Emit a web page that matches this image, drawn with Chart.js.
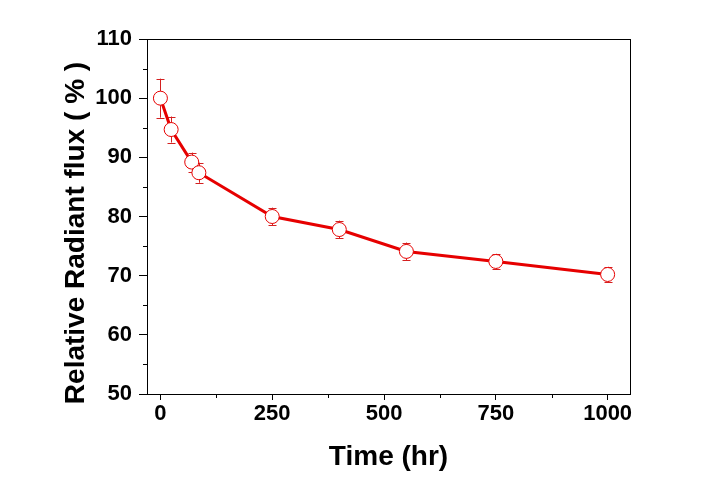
<!DOCTYPE html>
<html>
<head>
<meta charset="utf-8">
<script src="https://cdn.jsdelivr.net/npm/chart.js@4"></script>
<style>
  html, body { margin: 0; padding: 0; background: #fff; }
  #wrap { width: 714px; height: 482px; }
</style>
</head>
<body>
<div id="wrap"><canvas id="chart" width="714" height="482"></canvas></div>
<script>
// values
const times = [0, 24, 70, 86, 250, 400, 550, 750, 1000];
const flux = [100, 94.7, 89.2, 87.4, 80, 77.8, 74.1, 72.4, 70.2];
const errs = [3.3, 2.2, 1.6, 1.7, 1.5, 1.5, 1.5, 1.3, 1.3];
const xTicks = [0, 250, 500, 750, 1000];
const xMinor = [125, 375, 625, 875];
const yTicks = [50, 60, 70, 80, 90, 100, 110];
const yMinor = [55, 65, 75, 85, 95, 105];
const yTitle = 'Relative Radiant flux ( % )';

const red = '#e60000';
const fam = '"Liberation Sans", Arial, sans-serif';

// frame, minor ticks, error bars, y title
const extras = {
  id: 'extras',
  beforeDatasetsDraw(chart) {
    const ctx = chart.ctx;
    const xs = chart.scales.x, ys = chart.scales.y;
    ctx.save();
    ctx.strokeStyle = '#d42020';
    ctx.lineWidth = 1;
    times.forEach((t, i) => {
      const px = Math.round(xs.getPixelForValue(t)) + 0.5;
      const top = ys.getPixelForValue(flux[i] + errs[i]);
      const bot = ys.getPixelForValue(flux[i] - errs[i]);
      ctx.beginPath();
      ctx.moveTo(px, top); ctx.lineTo(px, bot);
      ctx.moveTo(px - 4, Math.round(top) + 0.5); ctx.lineTo(px + 4, Math.round(top) + 0.5);
      ctx.moveTo(px - 4, Math.round(bot) + 0.5); ctx.lineTo(px + 4, Math.round(bot) + 0.5);
      ctx.stroke();
    });
    ctx.restore();
  },
  afterDraw(chart) {
    const ctx = chart.ctx;
    const a = chart.chartArea;
    const xs = chart.scales.x, ys = chart.scales.y;
    ctx.save();
    ctx.strokeStyle = '#000';
    ctx.lineWidth = 1;
    ctx.strokeRect(Math.round(a.left) + 0.5, Math.round(a.top) + 0.5,
      Math.round(a.right - a.left), Math.round(a.bottom - a.top));
    ctx.beginPath();
    xMinor.forEach(v => {
      const px = Math.round(xs.getPixelForValue(v)) + 0.5;
      ctx.moveTo(px, a.bottom); ctx.lineTo(px, a.bottom + 4);
    });
    yMinor.forEach(v => {
      const py = Math.round(ys.getPixelForValue(v)) + 0.5;
      ctx.moveTo(a.left, py); ctx.lineTo(a.left - 4, py);
    });
    ctx.stroke();

    // y title sits a bit below the axis centre in the reference
    ctx.translate(76, 233);
    ctx.rotate(-Math.PI / 2);
    ctx.fillStyle = '#000';
    ctx.font = 'bold 28px ' + fam;
    ctx.textAlign = 'center';
    ctx.textBaseline = 'middle';
    ctx.fillText(yTitle, 0, 0);
    ctx.restore();
  }
};

new Chart(document.getElementById('chart').getContext('2d'), {
  type: 'scatter',
  data: {
    datasets: [{
      data: times.map((t, i) => ({ x: t, y: flux[i] })),
      showLine: true,
      borderColor: red,
      borderWidth: 3,
      pointRadius: 7,
      pointBorderWidth: 1,
      pointBorderColor: red,
      pointBackgroundColor: '#fff',
      tension: 0
    }]
  },
  options: {
    responsive: false,
    animation: false,
    layout: { padding: { left: 0, right: 84, top: 39, bottom: 0 } },
    plugins: { legend: { display: false }, tooltip: { enabled: false } },
    scales: {
      x: {
        type: 'linear',
        min: -30,
        max: 1050,
        afterFit: s => { s.height = 88; },
        afterBuildTicks: s => { s.ticks = xTicks.map(v => ({ value: v })); },
        border: { display: false },
        grid: { display: true, drawOnChartArea: false, drawTicks: true, tickLength: 6, color: '#000' },
        ticks: { color: '#000', padding: 1, maxRotation: 0, callback: v => String(v), font: { family: fam, size: 22, weight: 'bold' } },
        title: { display: true, text: 'Time (hr)', color: '#000', padding: { top: 0, bottom: 8 }, font: { family: fam, size: 28, weight: 'bold' } }
      },
      y: {
        min: 50,
        max: 110,
        afterFit: s => { s.width = 147; },
        afterBuildTicks: s => { s.ticks = yTicks.map(v => ({ value: v })); },
        border: { display: false },
        grid: { display: true, drawOnChartArea: false, drawTicks: true, tickLength: 8, color: '#000' },
        ticks: { color: '#000', padding: 7, font: { family: fam, size: 22, weight: 'bold' } }
      }
    }
  },
  plugins: [extras]
});
</script>
</body>
</html>
